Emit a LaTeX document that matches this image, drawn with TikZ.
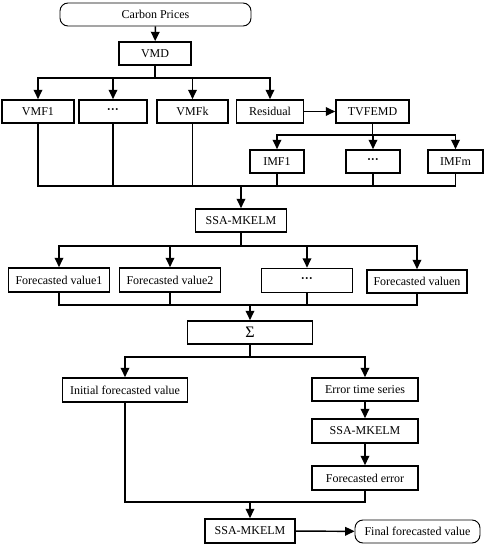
\documentclass[tikz,border=0pt]{standalone}
\usepackage{fontspec}
\setmainfont{Liberation Serif}
\usetikzlibrary{arrows.meta}
\begin{document}
\begin{tikzpicture}[x=0.75pt,y=-0.75pt,
  box/.style={draw,line width=1.3pt,inner sep=0pt,minimum height=17.25pt,font=\fontsize{9}{10}\selectfont},
  rbox/.style={box,rounded corners=6pt,line width=0.7pt},
  ln/.style={line width=1.1pt},
  arr/.style={ln,-{Triangle[length=7pt,width=6.5pt]}}]
\useasboundingbox (0,0) rectangle (486,550);
% nodes
\node[rbox,minimum width=143.25pt] (cp) at (155.5,14.5) {Carbon Prices};
\node[box,minimum width=54pt] (vmd) at (155,53.5) {VMD};
\node[box,minimum width=54pt] (vmf1) at (38,111.5) {VMF1};
\node[box,minimum width=51pt] (d1) at (113,111.5) {\textbf{···}};
\node[box,minimum width=53.25pt] (vmfk) at (192.5,111.5) {VMFk};
\node[box,minimum width=50.25pt] (res) at (270,111.5) {Residual};
\node[box,minimum width=54.75pt] (tvf) at (372.5,111.5) {TVFEMD};
\node[box,minimum width=40.5pt] (imf1) at (277,161.5) {IMF1};
\node[box,minimum width=40.5pt] (d2) at (373,161.5) {\textbf{···}};
\node[box,minimum width=41.25pt] (imfm) at (455.5,161.5) {IMFm};
\node[box,minimum width=68.25pt] (ssa1) at (241,220.5) {SSA-MKELM};
\node[box,minimum width=75.75pt,minimum height=18pt] (fv1) at (59,280) {Forecasted value1};
\node[box,minimum width=75.75pt,minimum height=18pt] (fv2) at (170,280) {Forecasted value2};
\node[box,minimum width=68.25pt,minimum height=18pt] (d3) at (307,280.5) {\textbf{···}};
\node[box,minimum width=75pt,minimum height=17.25pt] (fvn) at (417,281.5) {Forecasted valuen};
\node[box,minimum width=93.75pt,font=\fontsize{12}{12}\selectfont] (sig) at (250,332.5) {Σ};
\node[box,minimum width=93.75pt,minimum height=18pt] (init) at (125,390) {Initial forecasted value};
\node[box,minimum width=79.5pt] (err) at (365,389.5) {Error time series};
\node[box,minimum width=79.5pt,minimum height=18pt] (ssa2) at (365,431) {SSA-MKELM};
\node[box,minimum width=79.5pt,minimum height=18pt] (ferr) at (365,478) {Forecasted error};
\node[box,minimum width=67.5pt,minimum height=18pt] (ssa3) at (250,531) {SSA-MKELM};
\node[rbox,minimum width=93.75pt] (fin) at (417.5,531.5) {Final forecasted value};
% junctions
\coordinate (j1) at (155,78);
\coordinate (j2) at (372.5,135);
\coordinate (b1) at (241,186);
\coordinate (j3) at (241,246);
\coordinate (b2) at (250,305);
\coordinate (j4) at (250,357);
\coordinate (b3) at (250,502);
% connectors
\draw[arr] (cp) -- (vmd);
\draw[ln] (vmd) -- (j1);
\foreach \n in {vmf1,d1,vmfk,res} \draw[arr] (j1) -| (\n.north);
\draw[arr] (res) -- (tvf);
\draw[ln] (tvf) -- (j2);
\foreach \n in {imf1,d2,imfm} \draw[arr] (j2) -| (\n.north);
\foreach \n in {vmf1,d1,vmfk,imf1,d2,imfm} \draw[ln] (\n.south) |- (b1);
\draw[arr] (b1) -- (ssa1);
\draw[ln] (ssa1) -- (j3);
\foreach \n in {fv1,fv2,d3,fvn} \draw[arr] (j3) -| (\n.north);
\foreach \n in {fv1,fv2,d3,fvn} \draw[ln] (\n.south) |- (b2);
\draw[arr] (b2) -- (sig);
\draw[ln] (sig) -- (j4);
\foreach \n in {init,err} \draw[arr] (j4) -| (\n.north);
\draw[arr] (err) -- (ssa2);
\draw[arr] (ssa2) -- (ferr);
\foreach \n in {init,ferr} \draw[ln] (\n.south) |- (b3);
\draw[arr] (b3) -- (ssa3);
\draw[arr] (ssa3) -- (fin);
\end{tikzpicture}
\end{document}
